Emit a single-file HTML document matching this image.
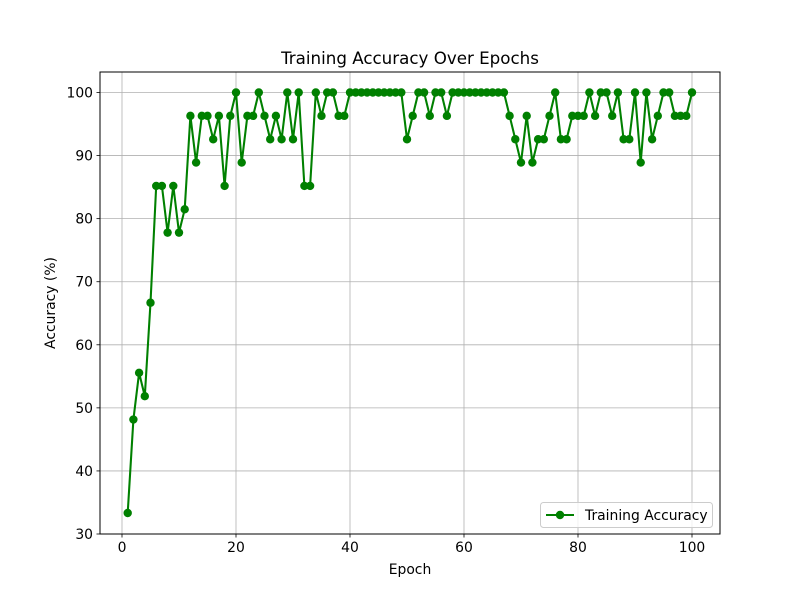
<!DOCTYPE html>
<html><head><meta charset="utf-8"><style>
body{margin:0;background:#fff;}
svg{display:block;font-family:"DejaVu Sans","Liberation Sans",sans-serif;}
</style></head><body>
<svg id="chart" width="800" height="600" viewBox="0 0 800 600">
<rect width="800" height="600" fill="#fff"/>
<g id="grid"></g>
<g id="series"></g>
<rect x="100" y="72" width="620" height="462" fill="none" stroke="#000" stroke-width="1"/>
<g id="ticks"></g>
<text x="410" y="64" text-anchor="middle" font-size="16.7">Training Accuracy Over Epochs</text>
<text x="410" y="574" text-anchor="middle" font-size="13.9">Epoch</text>
<text x="55" y="303" text-anchor="middle" font-size="13.9" transform="rotate(-90 55 303)">Accuracy (%)</text>
<g>
<rect x="540.5" y="502.5" width="172" height="25" rx="3" fill="#fff" fill-opacity="0.8" stroke="#ccc"/>
<line x1="546" y1="515" x2="574" y2="515" stroke="green" stroke-width="2"/>
<circle cx="560" cy="515" r="4.2" fill="green"/>
<text x="585" y="520" font-size="13.9">Training Accuracy</text>
</g>
</svg>
<script>
const epochs = Array.from({length:100},(_,i)=>i+1);
const accuracy = [33.33,48.15,55.56,51.85,66.67,85.19,85.19,77.78,85.19,77.78,
81.48,96.30,88.89,96.30,96.30,92.59,96.30,85.19,96.30,100,
88.89,96.30,96.30,100,96.30,92.59,96.30,92.59,100,92.59,
100,85.19,85.19,100,96.30,100,100,96.30,96.30,100,
100,100,100,100,100,100,100,100,100,92.59,
96.30,100,100,96.30,100,100,96.30,100,100,100,
100,100,100,100,100,100,100,96.30,92.59,88.89,
96.30,88.89,92.59,92.59,96.30,100,92.59,92.59,96.30,96.30,
96.30,100,96.30,100,100,96.30,100,92.59,92.59,100,
88.89,100,92.59,96.30,100,100,96.30,96.30,96.30,100];
const xTicks = [0,20,40,60,80,100];
const yTicks = [30,40,50,60,70,80,90,100];
const NS="http://www.w3.org/2000/svg";
const X=v=>122+5.7*v;
const Y=v=>534-(v-30)*6.307;
const grid=document.getElementById('grid'),ticks=document.getElementById('ticks'),series=document.getElementById('series');
function mk(tag,attrs,parent){const e=document.createElementNS(NS,tag);for(const k in attrs)e.setAttribute(k,attrs[k]);parent.appendChild(e);return e;}
xTicks.forEach(t=>{
  const g=mk('line',{x1:X(t),x2:X(t),y1:72,y2:534,stroke:'#b0b0b0','stroke-width':0.8},grid);
  
  
  const m=mk('line',{x1:X(t),x2:X(t),y1:534,y2:537.5,stroke:'#000','stroke-width':0.8},ticks);
  
  
  const l=mk('text',{x:X(t),y:552,'text-anchor':'middle','font-size':13.9},ticks);l.textContent=t;
  
  
});
yTicks.forEach(t=>{
  const g=mk('line',{x1:100,x2:720,y1:Y(t),y2:Y(t),stroke:'#b0b0b0','stroke-width':0.8},grid);
  
  
  const m=mk('line',{x1:96.5,x2:100,y1:Y(t),y2:Y(t),stroke:'#000','stroke-width':0.8},ticks);
  
  
  const l=mk('text',{x:93,y:Y(t)+5,'text-anchor':'end','font-size':13.9},ticks);l.textContent=t;
  
  
});
const pts=epochs.map((e,i)=>X(e)+','+Y(accuracy[i])).join(' ');
const pl=mk('polyline',{points:pts,fill:'none',stroke:'green','stroke-width':2.08,'stroke-linejoin':'round'},series);


epochs.forEach((e,i)=>{
  const c=mk('circle',{cx:X(e),cy:Y(accuracy[i]),r:4.2,fill:'green'},series);
  
  
});
</script>
</body></html>
